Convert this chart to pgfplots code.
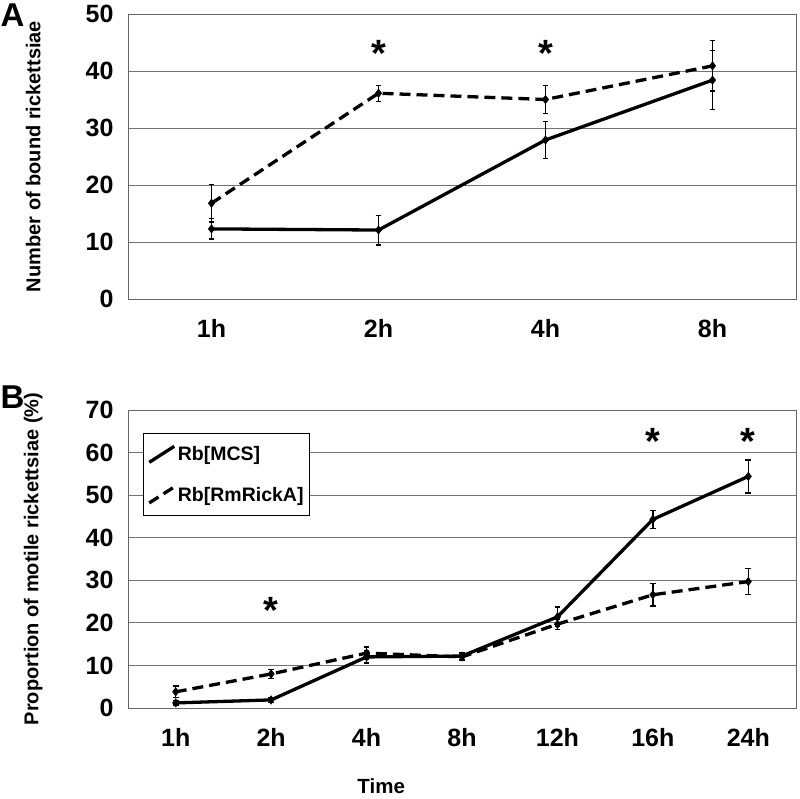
\documentclass[border=0pt]{standalone}
\usepackage{fontspec}
\setmainfont{Liberation Sans}
\usepackage{pgfplots}
\pgfplotsset{compat=1.18}
\tikzset{ast/.style={font=\fontsize{38}{38}\selectfont\bfseries, yshift=-8pt}}
\pgfplotsset{
  panel/.style={
    scale only axis, width=668pt, xmin=-0.5,
    ymin=0, ymajorgrids,
    grid style={black!55, line width=1pt},
    axis line style={black!60, line width=1pt},
    major tick length=0pt,
    /pgf/number format/assume math mode=true,
    tick label style={font=\fontsize{25}{25}\selectfont\bfseries},
    yticklabel style={xshift=-11pt},
    xticklabel style={yshift=-17pt},
    ylabel style={font=\fontsize{20}{20}\selectfont\bfseries, at={(axis description cs:-0.142,0.5)}, anchor=center},
    clip=false,
    legend image code/.code={\draw[#1] (0pt,-8pt) -- (25pt,8pt);},
  },
  ser/.style={black, line width=3.3pt, mark=diamond*, mark size=4.2pt, mark options={solid, line width=0.5pt},
    error bars/y dir=both, error bars/y explicit, error bars/error bar style={line width=1.4pt, solid},
    error bars/error mark options={rotate=90, line width=1.4pt, mark size=2.8pt, solid}},
  dser/.style={ser, dash pattern=on 11pt off 6pt},
}
\begin{document}
\begin{tikzpicture}
\path[use as bounding box] (0pt,0pt) rectangle (800pt,-798pt);
\node[anchor=north west, inner sep=0pt, font=\fontsize{33}{33}\selectfont\bfseries] at (0.5pt,-4pt) {A};
\node[anchor=north west, inner sep=0pt, font=\fontsize{33}{33}\selectfont\bfseries] at (0.5pt,-386pt) {B};
\begin{axis}[panel, at={(128pt,-14pt)}, anchor=north west, height=285pt,
  xmax=3.5, ymax=50, ytick={0,10,...,50},
  xtick={0,1,2,3}, xticklabels={1h,2h,4h,8h},
  ylabel={Number of bound rickettsiae}]
\addplot[ser] table[x=x, y=y, y error=e] {
x y e
0 12.3 1.8
1 12.1 2.6
2 27.9 3.2
3 38.4 5.2
};
\addplot[dser] table[x=x, y=y, y error=e] {
x y e
0 16.8 3.3
1 36.1 1.4
2 35.0 2.5
3 40.9 4.4
};
\node[ast] at (axis cs:1,44.4) {*};
\node[ast] at (axis cs:2,44.4) {*};
\end{axis}
\begin{axis}[panel, at={(128pt,-410pt)}, anchor=north west, height=298pt,
  xmax=6.5, ymax=70, ytick={0,10,...,70},
  xtick={0,...,6}, xticklabels={1h,2h,4h,8h,12h,16h,24h},
  ylabel={Proportion of motile rickettsiae (\%)},
  xlabel={Time},
  xlabel style={font=\fontsize{20.5}{20.5}\selectfont\bfseries, at={(axis description cs:0.379,-0.262)}, anchor=center},
  legend style={at={(axis description cs:0.0225,0.923)}, anchor=north west, draw=black, line width=1.1pt,
    font=\fontsize{19.5}{19.5}\selectfont\bfseries, row sep=21pt, inner xsep=4pt, inner ysep=11pt,
    cells={anchor=west}, nodes={inner sep=2pt}},
  legend cell align=left]
\addplot[ser] table[x=x, y=y, y error=e] {
x y e
0 1.2 0.5
1 1.9 0.6
2 12.0 1.4
3 12.2 0.8
4 21.4 2.3
5 44.3 2.1
6 54.4 3.9
};
\addlegendentry{Rb[MCS]}
\addplot[dser] table[x=x, y=y, y error=e] {
x y e
0 3.8 1.4
1 8.0 1.0
2 12.9 1.4
3 12.0 0.8
4 19.7 1.2
5 26.6 2.6
6 29.7 3.0
};
\addlegendentry{Rb[RmRickA]}
\node[ast] at (axis cs:1,24.9) {*};
\node[ast] at (axis cs:5,64.6) {*};
\node[ast] at (axis cs:6,64.6) {*};
\end{axis}
\end{tikzpicture}
\end{document}
